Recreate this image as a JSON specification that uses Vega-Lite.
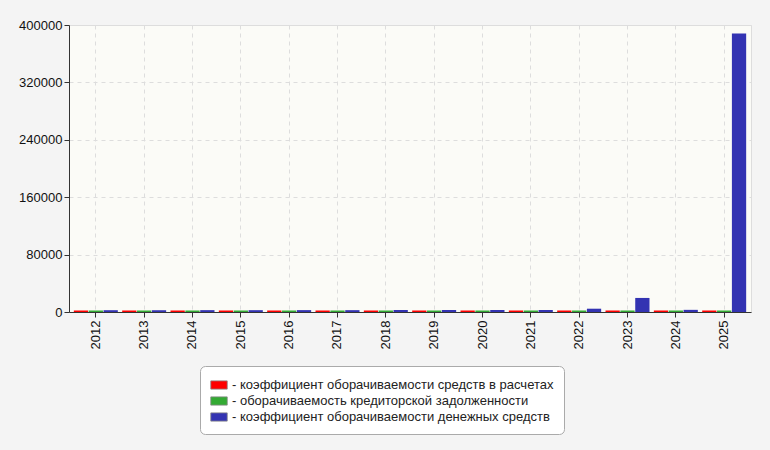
{
  "$schema": "https://vega.github.io/schema/vega-lite/v6.json",
  "width": 682,
  "height": 287,
  "autosize": "none",
  "padding": {"left": 69, "top": 25, "right": 19, "bottom": 138},
  "background": "#f4f4f4",
  "config": {
    "font": "Liberation Sans",
    "view": {"fill": "#fbfbf7", "stroke": "#dddddd", "strokeWidth": 1}
  },
  "data": {
    "values": [
      {"year": "2012", "series": "коэффициент оборачиваемости средств в расчетах", "value": 12},
      {"year": "2013", "series": "коэффициент оборачиваемости средств в расчетах", "value": 11},
      {"year": "2014", "series": "коэффициент оборачиваемости средств в расчетах", "value": 10},
      {"year": "2015", "series": "коэффициент оборачиваемости средств в расчетах", "value": 9},
      {"year": "2016", "series": "коэффициент оборачиваемости средств в расчетах", "value": 11},
      {"year": "2017", "series": "коэффициент оборачиваемости средств в расчетах", "value": 12},
      {"year": "2018", "series": "коэффициент оборачиваемости средств в расчетах", "value": 10},
      {"year": "2019", "series": "коэффициент оборачиваемости средств в расчетах", "value": 9},
      {"year": "2020", "series": "коэффициент оборачиваемости средств в расчетах", "value": 11},
      {"year": "2021", "series": "коэффициент оборачиваемости средств в расчетах", "value": 12},
      {"year": "2022", "series": "коэффициент оборачиваемости средств в расчетах", "value": 14},
      {"year": "2023", "series": "коэффициент оборачиваемости средств в расчетах", "value": 13},
      {"year": "2024", "series": "коэффициент оборачиваемости средств в расчетах", "value": 12},
      {"year": "2025", "series": "коэффициент оборачиваемости средств в расчетах", "value": 11},
      {"year": "2012", "series": "оборачиваемость кредиторской задолженности", "value": 8},
      {"year": "2013", "series": "оборачиваемость кредиторской задолженности", "value": 9},
      {"year": "2014", "series": "оборачиваемость кредиторской задолженности", "value": 8},
      {"year": "2015", "series": "оборачиваемость кредиторской задолженности", "value": 7},
      {"year": "2016", "series": "оборачиваемость кредиторской задолженности", "value": 9},
      {"year": "2017", "series": "оборачиваемость кредиторской задолженности", "value": 10},
      {"year": "2018", "series": "оборачиваемость кредиторской задолженности", "value": 8},
      {"year": "2019", "series": "оборачиваемость кредиторской задолженности", "value": 7},
      {"year": "2020", "series": "оборачиваемость кредиторской задолженности", "value": 9},
      {"year": "2021", "series": "оборачиваемость кредиторской задолженности", "value": 8},
      {"year": "2022", "series": "оборачиваемость кредиторской задолженности", "value": 10},
      {"year": "2023", "series": "оборачиваемость кредиторской задолженности", "value": 9},
      {"year": "2024", "series": "оборачиваемость кредиторской задолженности", "value": 8},
      {"year": "2025", "series": "оборачиваемость кредиторской задолженности", "value": 9},
      {"year": "2012", "series": "коэффициент оборачиваемости денежных средств", "value": 420},
      {"year": "2013", "series": "коэффициент оборачиваемости денежных средств", "value": 380},
      {"year": "2014", "series": "коэффициент оборачиваемости денежных средств", "value": 510},
      {"year": "2015", "series": "коэффициент оборачиваемости денежных средств", "value": 460},
      {"year": "2016", "series": "коэффициент оборачиваемости денежных средств", "value": 530},
      {"year": "2017", "series": "коэффициент оборачиваемости денежных средств", "value": 480},
      {"year": "2018", "series": "коэффициент оборачиваемости денежных средств", "value": 620},
      {"year": "2019", "series": "коэффициент оборачиваемости денежных средств", "value": 560},
      {"year": "2020", "series": "коэффициент оборачиваемости денежных средств", "value": 700},
      {"year": "2021", "series": "коэффициент оборачиваемости денежных средств", "value": 650},
      {"year": "2022", "series": "коэффициент оборачиваемости денежных средств", "value": 2500},
      {"year": "2023", "series": "коэффициент оборачиваемости денежных средств", "value": 17500},
      {"year": "2024", "series": "коэффициент оборачиваемости денежных средств", "value": 900},
      {"year": "2025", "series": "коэффициент оборачиваемости денежных средств", "value": 386000}
    ]
  },
  "mark": {"type": "bar", "yOffset": -1.5, "y2Offset": 0},
  "encoding": {
    "x": {
      "field": "year",
      "type": "nominal",
      "scale": {"paddingInner": 0.09, "paddingOuter": 0.1},
      "axis": {
        "title": null,
        "labelAngle": -90,
        "labelFontSize": 13,
        "labelColor": "#111111",
        "labelPadding": 3,
        "tickSize": 5,
        "tickColor": "#333333",
        "domainColor": "#333333",
        "grid": true,
        "gridColor": "#dddddd",
        "gridDash": [4, 4]
      }
    },
    "xOffset": {
      "field": "series",
      "type": "nominal",
      "scale": {
        "domain": [
          "коэффициент оборачиваемости средств в расчетах",
          "оборачиваемость кредиторской задолженности",
          "коэффициент оборачиваемости денежных средств"
        ],
        "paddingInner": 0.04,
        "paddingOuter": 0
      }
    },
    "y": {
      "field": "value",
      "type": "quantitative",
      "scale": {"domain": [0, 400000], "nice": false},
      "axis": {
        "title": null,
        "values": [0, 80000, 160000, 240000, 320000, 400000],
        "format": "d",
        "labelFontSize": 13,
        "labelColor": "#111111",
        "tickSize": 5,
        "tickColor": "#333333",
        "domainColor": "#333333",
        "gridColor": "#dddddd",
        "gridDash": [4, 4]
      }
    },
    "y2": {"datum": 0},
    "color": {
      "field": "series",
      "type": "nominal",
      "scale": {
        "domain": [
          "коэффициент оборачиваемости средств в расчетах",
          "оборачиваемость кредиторской задолженности",
          "коэффициент оборачиваемости денежных средств"
        ],
        "range": ["#ff0000", "#33aa33", "#3333b2"]
      },
      "legend": {
        "title": null,
        "orient": "none",
        "legendX": 131,
        "legendY": 341,
        "fillColor": "#ffffff",
        "strokeColor": "#aaaaaa",
        "cornerRadius": 5,
        "padding": 10,
        "rowPadding": 0,
        "labelFontSize": 13,
        "labelColor": "#222222",
        "labelOffset": 4,
        "labelLimit": 400,
        "labelExpr": "'- ' + datum.label",
        "symbolType": "M-1,-0.5H1V0.5H-1Z",
        "symbolSize": 272,
        "symbolStrokeColor": "#888888",
        "symbolStrokeWidth": 0.8
      }
    }
  }
}
